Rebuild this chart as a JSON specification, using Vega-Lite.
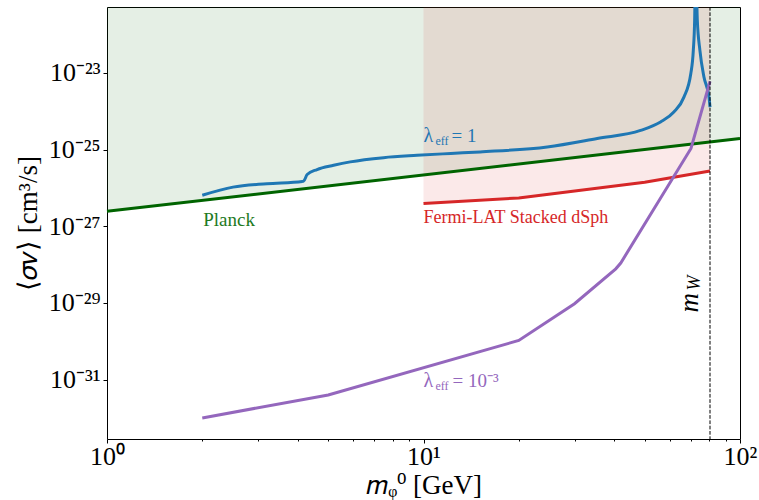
{
  "$schema": "https://vega.github.io/schema/vega-lite/v6.json",
  "width": 633,
  "height": 432,
  "autosize": "none",
  "padding": {"left": 107, "top": 7, "right": 19, "bottom": 61},
  "background": "white",
  "config": {
    "view": {"stroke": "black", "strokeWidth": 1},
    "axis": {
      "domain": false,
      "grid": false,
      "labelFont": "Liberation Serif",
      "labelFontSize": 26,
      "labelColor": "black",
      "labelFlush": false,
      "labelOverlap": false,
      "tickColor": "black",
      "tickWidth": 1,
      "tickSize": 4,
      "titleFont": "Liberation Serif",
      "titleFontSize": 27,
      "titleFontWeight": "normal",
      "titleColor": "black"
    },
    "text": {"font": "Liberation Serif"}
  },
  "datasets": {
    "planck": [{"m": 1, "sv": 2.45e-27}, {"m": 100, "sv": 1.94e-25}],
    "fermi": [{"m": 10, "sv": 3.9e-27}, {"m": 20, "sv": 5.5e-27}, {"m": 50, "sv": 1.41e-26}, {"m": 80.4, "sv": 2.75e-26}],
    "lam1": [
      {"m": 2.0, "sv": 6.46e-27}, {"m": 2.5, "sv": 1.05e-26}, {"m": 3.2, "sv": 1.29e-26}, {"m": 4.14, "sv": 1.48e-26},
      {"m": 4.18, "sv": 1.5e-26}, {"m": 4.29, "sv": 2.24e-26}, {"m": 4.61, "sv": 3.02e-26}, {"m": 5.2, "sv": 3.89e-26},
      {"m": 5.87, "sv": 4.79e-26}, {"m": 7.48, "sv": 6.17e-26}, {"m": 9.54, "sv": 7.08e-26}, {"m": 12.2, "sv": 7.94e-26},
      {"m": 15.1, "sv": 8.71e-26}, {"m": 24.6, "sv": 1.17e-25}, {"m": 35.4, "sv": 1.95e-25}, {"m": 48.5, "sv": 3.16e-25},
      {"m": 56.1, "sv": 5.25e-25}, {"m": 61.8, "sv": 9.55e-25}, {"m": 66.5, "sv": 2.34e-24}, {"m": 69.9, "sv": 9.55e-24},
      {"m": 71.2, "sv": 3.89e-23}, {"m": 71.9, "sv": 2.4e-22}, {"m": 72.4, "sv": 1e-20}, {"m": 73.3, "sv": 2.4e-22},
      {"m": 74.7, "sv": 3.89e-23}, {"m": 76.9, "sv": 7.94e-24}, {"m": 79.8, "sv": 2.34e-24}, {"m": 80.4, "sv": 1.29e-24}
    ],
    "lam3": [
      {"m": 2, "sv": 1.0e-32}, {"m": 5, "sv": 3.98e-32}, {"m": 20, "sv": 1.05e-30}, {"m": 30, "sv": 9.55e-30},
      {"m": 40.5, "sv": 7.76e-29}, {"m": 42, "sv": 1.1e-28}, {"m": 70, "sv": 1.07e-25}, {"m": 80.4, "sv": 6.03e-24}
    ]
  },
  "resolve": {"axis": {"x": "independent", "y": "independent"}},
  "layer": [
    {
      "data": {"name": "planck"},
      "mark": {"type": "area", "color": "#006400", "opacity": 0.1},
      "encoding": {
        "x": {"field": "m", "type": "quantitative",
          "scale": {"type": "log", "domain": [1, 100], "nice": false},
          "axis": {"orient": "bottom", "values": [2,3,4,5,6,7,8,9,20,30,40,50,60,70,80,90], "labels": false, "tickSize": 2, "title": null}},
        "y": {"field": "sv", "type": "quantitative",
          "scale": {"type": "log", "domain": [2.82e-33, 5.25e-22], "nice": false},
          "axis": null},
        "y2": {"datum": 5.25e-22}
      }
    },
    {
      "encoding": {
        "x": {"field": "m", "type": "quantitative",
          "scale": {"type": "log", "domain": [1, 100], "nice": false},
          "axis": {"orient": "bottom", "values": [1, 10, 100], "labelPadding": 0, "titlePadding": 3,
            "labelExpr": "datum.value < 3 ? '10⁰' : datum.value < 30 ? '10¹' : '10²'",
            "title": "𝑚ᵩ⁰ [GeV]"}},
        "y": {"field": "sv", "type": "quantitative",
          "scale": {"type": "log", "domain": [2.82e-33, 5.25e-22], "nice": false},
          "axis": {"values": [1e-31, 1e-29, 1e-27, 1e-25, 1e-23], "labelPadding": 3, "titlePadding": 6,
            "labelExpr": "datum.value < 3e-31 ? '10⁻³¹' : datum.value < 3e-29 ? '10⁻²⁹' : datum.value < 3e-27 ? '10⁻²⁷' : datum.value < 3e-25 ? '10⁻²⁵' : '10⁻²³'",
            "title": "⟨𝜎𝑣⟩ [cm³/s]"}}
      },
      "layer": [
        {
          "data": {"name": "fermi"},
          "mark": {"type": "area", "color": "#d62728", "opacity": 0.1},
          "encoding": {"y2": {"datum": 5.25e-22}}
        },
        {
          "data": {"name": "planck"},
          "mark": {"type": "line", "color": "#006400", "strokeWidth": 3}
        },
        {
          "data": {"name": "fermi"},
          "mark": {"type": "line", "color": "#d62728", "strokeWidth": 3}
        },
        {
          "data": {"name": "lam1"},
          "mark": {"type": "line", "color": "#1f77b4", "strokeWidth": 3, "clip": true, "interpolate": "monotone"}
        },
        {
          "data": {"name": "lam3"},
          "mark": {"type": "line", "color": "#9467bd", "strokeWidth": 3, "clip": true}
        },
        {
          "data": {"values": [{"m": 80.4}]},
          "mark": {"type": "rule", "color": "black", "strokeWidth": 1, "strokeDash": [3.7, 1.6]},
          "encoding": {"y": null}
        },
        {
          "data": {"values": [{"m": 2.43, "sv": 1e-27, "t": "Planck"}]},
          "mark": {"type": "text", "color": "#1e7a1e", "fontSize": 19, "align": "center", "baseline": "alphabetic"},
          "encoding": {"text": {"field": "t"}}
        },
        {
          "data": {"values": [{"m": 10, "sv": 1.2e-27, "t": "Fermi-LAT Stacked dSph"}]},
          "mark": {"type": "text", "color": "#d62728", "fontSize": 18, "align": "left", "baseline": "alphabetic"},
          "encoding": {"text": {"field": "t"}}
        },
        {
          "data": {"values": [{"m": 10, "sv": 1.6e-25, "t": "λ"}]},
          "mark": {"type": "text", "color": "#1f77b4", "fontSize": 20, "align": "left", "baseline": "alphabetic"},
          "encoding": {"text": {"field": "t"}}
        },
        {
          "data": {"values": [{"m": 10, "sv": 1.6e-25, "t": "eff"}]},
          "mark": {"type": "text", "color": "#1f77b4", "fontSize": 12, "align": "left", "baseline": "alphabetic", "dx": 12, "dy": 3},
          "encoding": {"text": {"field": "t"}}
        },
        {
          "data": {"values": [{"m": 10, "sv": 1.6e-25, "t": "= 1"}]},
          "mark": {"type": "text", "color": "#1f77b4", "fontSize": 19, "align": "left", "baseline": "alphabetic", "dx": 28},
          "encoding": {"text": {"field": "t"}}
        },
        {
          "data": {"values": [{"m": 10, "sv": 6.6e-32, "t": "λ"}]},
          "mark": {"type": "text", "color": "#9467bd", "fontSize": 20, "align": "left", "baseline": "alphabetic"},
          "encoding": {"text": {"field": "t"}}
        },
        {
          "data": {"values": [{"m": 10, "sv": 6.6e-32, "t": "eff"}]},
          "mark": {"type": "text", "color": "#9467bd", "fontSize": 12, "align": "left", "baseline": "alphabetic", "dx": 12, "dy": 3},
          "encoding": {"text": {"field": "t"}}
        },
        {
          "data": {"values": [{"m": 10, "sv": 6.6e-32, "t": "= 10⁻³"}]},
          "mark": {"type": "text", "color": "#9467bd", "fontSize": 19, "align": "left", "baseline": "alphabetic", "dx": 29},
          "encoding": {"text": {"field": "t"}}
        },
        {
          "data": {"values": [{"m": 73.8, "sv": 5.6e-30, "t": "m"}]},
          "mark": {"type": "text", "color": "black", "fontSize": 27, "fontStyle": "italic", "angle": 270, "align": "left", "baseline": "alphabetic"},
          "encoding": {"text": {"field": "t"}}
        },
        {
          "data": {"values": [{"m": 73.8, "sv": 5.6e-30, "t": "W"}]},
          "mark": {"type": "text", "color": "black", "fontSize": 18, "fontStyle": "italic", "angle": 270, "align": "left", "baseline": "alphabetic", "dx": 22, "dy": 2},
          "encoding": {"text": {"field": "t"}}
        }
      ]
    }
  ]
}
